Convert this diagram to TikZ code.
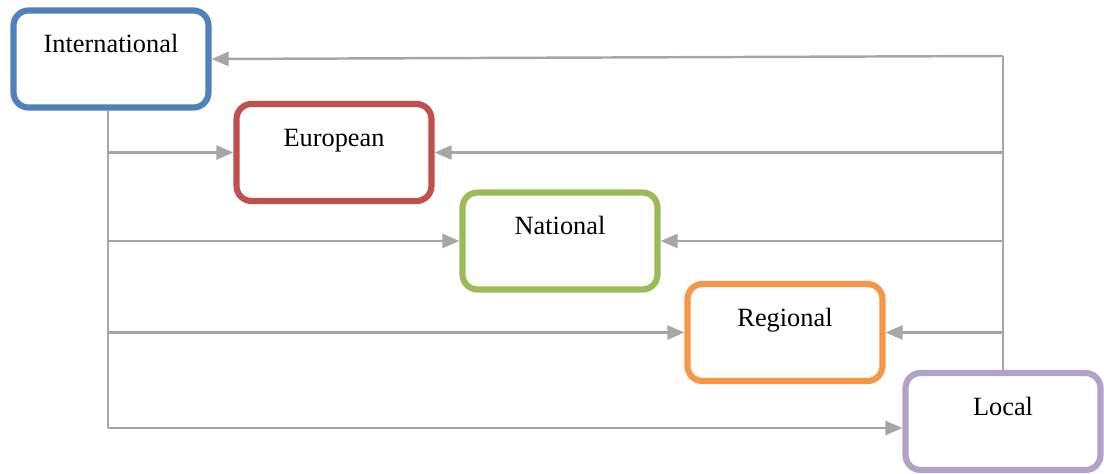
\documentclass[tikz,border=0pt]{standalone}
\usepackage{fontspec}
\setmainfont{Liberation Serif}
\usetikzlibrary{arrows.meta}
\definecolor{lvlblue}{HTML}{4F81BD}
\definecolor{lvlred}{HTML}{C0504D}
\definecolor{lvlgreen}{HTML}{9BBB59}
\definecolor{lvlorange}{HTML}{F79646}
\definecolor{lvlpurple}{HTML}{B3A2C7}
\definecolor{linkgray}{HTML}{A6A6A6}
\begin{document}
\begin{tikzpicture}[x=0.02cm, y=-0.02cm,
    lvlbox/.style={draw=#1, line width=3.5pt, rounded corners=0.3cm, fill=white,
        minimum width=3.9cm, minimum height=1.94cm,
        text height=0.35cm, text depth=0.6cm, font=\fontsize{15}{18}\selectfont},
    link/.style={draw=linkgray, line width=1.4pt, -{Triangle[length=0.34cm,width=0.28cm]}},
    bus/.style={draw=linkgray, line width=1.4pt}]
        \useasboundingbox (0,0) rectangle (1104,473);

        % Draw the boxes
        \node[lvlbox=lvlblue] (intl) at (111,59) {International};
        \node[lvlbox=lvlred] (eur) at (334,152.5) {European};
        \node[lvlbox=lvlgreen] (nat) at (560,241) {National};
        \node[lvlbox=lvlorange] (reg) at (785,332.5) {Regional};
        \node[lvlbox=lvlpurple] (loc) at (1003,421.5) {Local};

        % Corners of the two lines
        \coordinate (lbus) at (108,428);
        \coordinate (rtop) at (1003,56);

        % Left line, going down
        \draw[bus] (intl.south -| lbus) -- (lbus);
        \draw[link] (lbus) -- (loc.west |- lbus);
        \draw[link] (eur.west -| lbus) -- (eur.west);
        \draw[link] (nat.west -| lbus) -- (nat.west);
        \draw[link] (reg.west -| lbus) -- (reg.west);

        % Right line, going up
        \draw[bus] (loc.north) -- (rtop);
        \draw[link] (rtop) -- (intl.east);
        \draw[link] (eur.east -| rtop) -- (eur.east);
        \draw[link] (nat.east -| rtop) -- (nat.east);
        \draw[link] (reg.east -| rtop) -- (reg.east);

    \end{tikzpicture}
\end{document}
